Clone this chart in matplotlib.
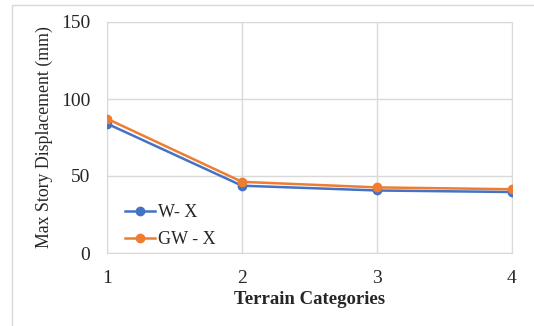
import matplotlib
matplotlib.use("Agg")
import matplotlib.pyplot as plt
from matplotlib.patches import Rectangle

categories = [1, 2, 3, 4]
w_x = [84.0, 43.7, 40.6, 39.6]
gw_x = [87.2, 46.2, 42.6, 41.4]
yticks = [0, 50, 100, 150]

plt.rcParams['font.family'] = ['Liberation Serif', 'DejaVu Serif']

fig = plt.figure(figsize=(5.34, 3.26), dpi=100)
ax = fig.add_axes([107/534, 1-253/326, (512-107)/534, (253-22)/326])

grid_c = '#d9d9d9'
ax.plot(categories, w_x, color='#4472c4', lw=1.8, marker='o', ms=6, label='W- X', zorder=3)
ax.plot(categories, gw_x, color='#ed7d31', lw=1.8, marker='o', ms=6, label='GW - X', zorder=3)

ax.set_xlim(1, 4)
ax.set_ylim(0, 150)
ax.set_xticks(categories)
ax.set_yticks(yticks)
ax.grid(True, color=grid_c, lw=1)
for s in ax.spines.values():
    s.set_color(grid_c)
ax.tick_params(length=0, labelsize=14, colors='#262626', pad=12)
ax.tick_params(axis='x', pad=12)

ax.set_xlabel('Terrain Categories', fontsize=13.5, fontweight='bold', labelpad=3, color='#262626')
ax.set_ylabel('Max Story Displacement (mm)', fontsize=12.8, labelpad=5.5, color='#262626')

leg = ax.legend(loc='center left', bbox_to_anchor=(0.044, 0.115), frameon=False,
                borderaxespad=0, borderpad=0,
                fontsize=13, handlelength=1.65, handletextpad=0.2, labelspacing=0.55)
for t in leg.get_texts():
    t.set_color('#262626')

fig.patches.append(Rectangle((12/534, -0.1), 1.2, (1-5/326)+0.1, transform=fig.transFigure,
                             fill=False, edgecolor=grid_c, lw=1))

fig.savefig('out.png', dpi=100)
